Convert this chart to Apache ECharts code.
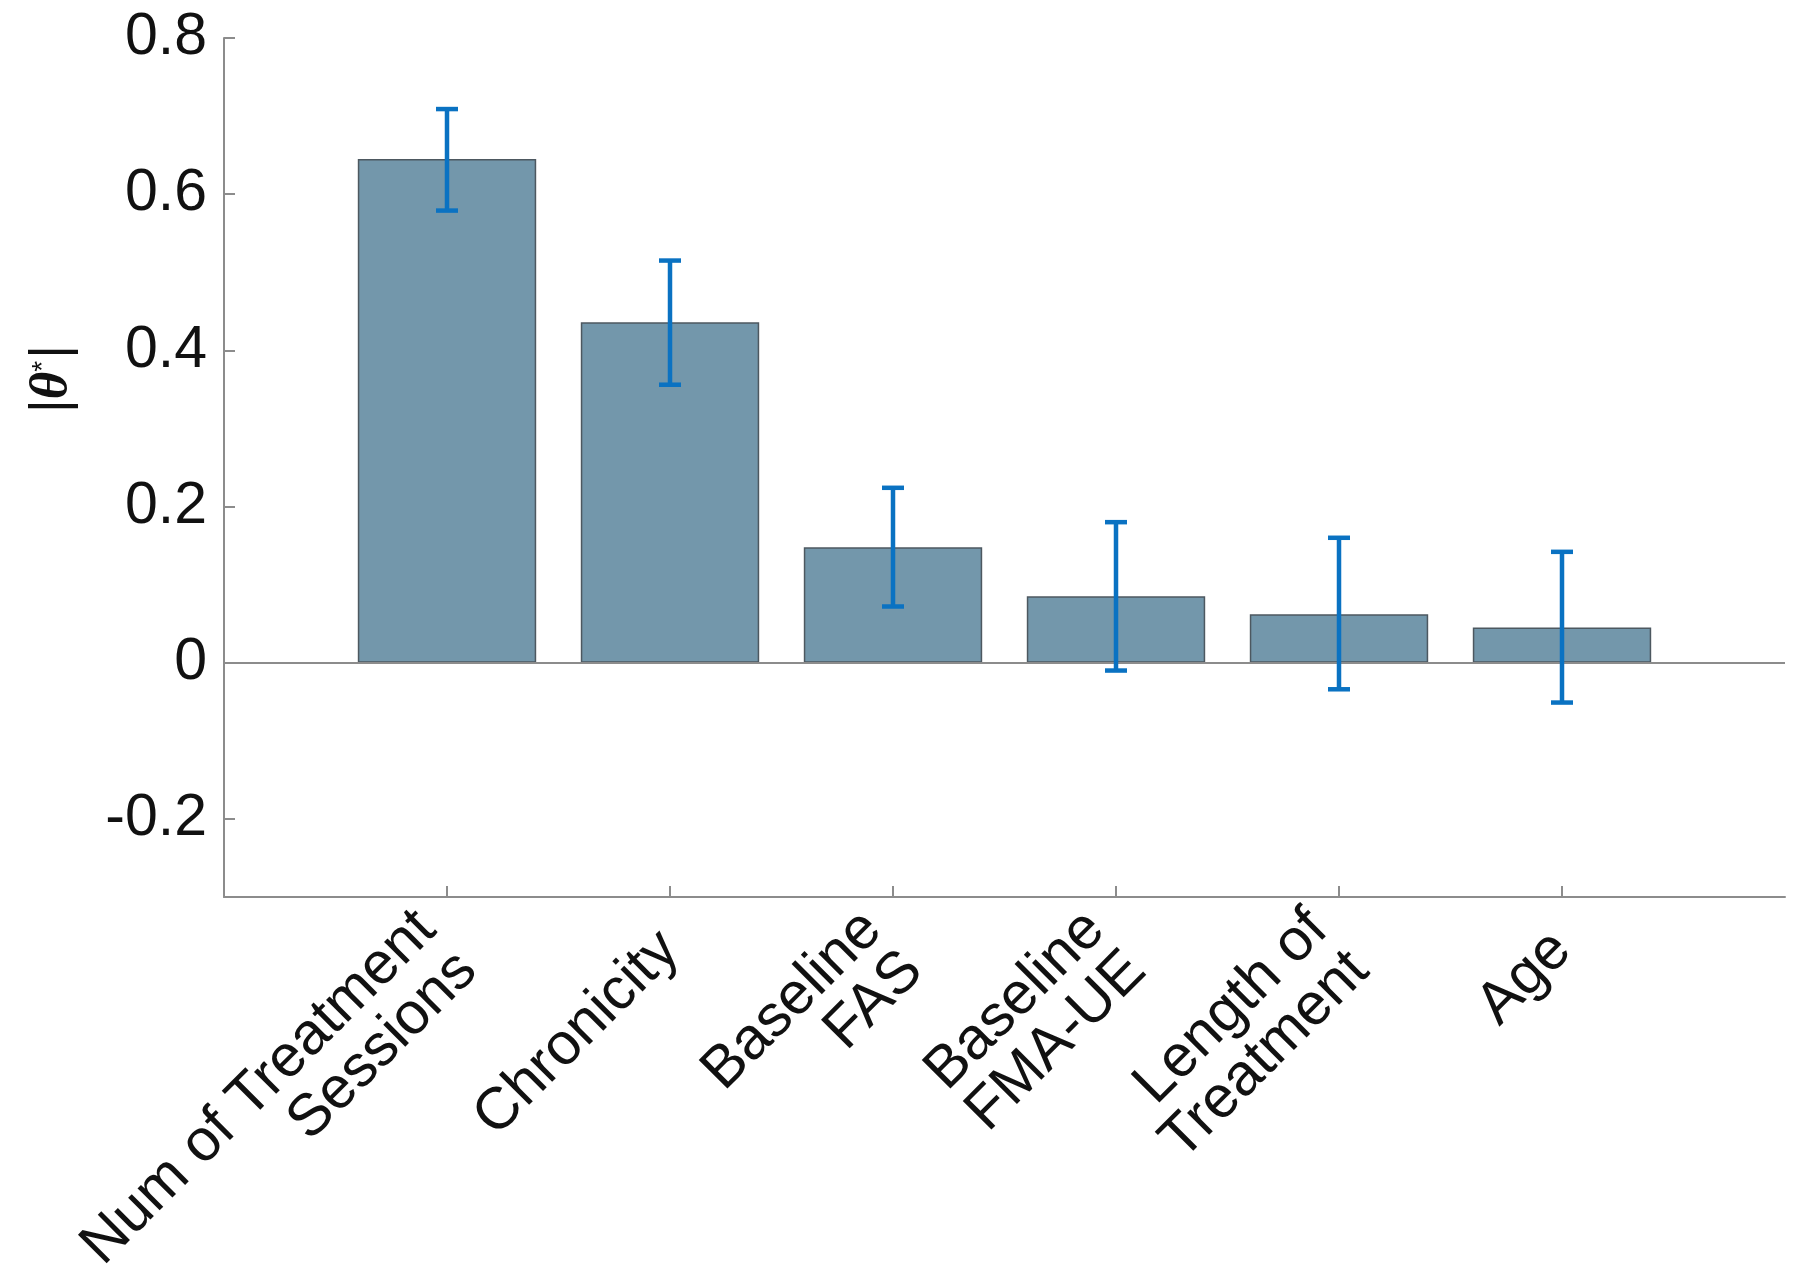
<!DOCTYPE html>
<html>
<head>
<meta charset="utf-8">
<script src="https://cdn.jsdelivr.net/npm/echarts@6/dist/echarts.min.js"></script>
<style>
html,body{margin:0;padding:0;background:#fff;}
#chart{width:1800px;height:1286px;}
</style>
</head>
<body>
<div id="chart"></div>
<script>
// ---- data ----
const categories = ['Num of Treatment\nSessions', 'Chronicity', 'Baseline\nFAS', 'Baseline\nFMA-UE', 'Length of\nTreatment', 'Age'];
const values = [0.645, 0.436, 0.148, 0.085, 0.062, 0.045];
const errLow = [0.579, 0.356, 0.072, -0.010, -0.034, -0.051];
const errHigh = [0.709, 0.515, 0.224, 0.180, 0.160, 0.142];
const yTicks = [-0.2, 0, 0.2, 0.4, 0.6, 0.8];

// padded category list so bars sit at 1..6 on a 0..7 span
const padded = [''].concat(categories, ['']);
const barData = ['-'].concat(values, ['-']);
const errData = categories.map((c, i) => [i + 1, errLow[i], errHigh[i]]);

const chart = echarts.init(document.getElementById('chart'), null, {renderer: 'canvas'});
const axisGray = '#8c8c8c';
const font = 'Liberation Sans, Arial, sans-serif';

const option = {
  backgroundColor: '#ffffff',
  animation: false,
  grid: {left: 224, right: 15, top: 38, bottom: 389, containLabel: false, outerBoundsMode: 'none'},
  xAxis: {
    type: 'category',
    data: padded,
    boundaryGap: false,
    axisLine: {show: true, onZero: false, lineStyle: {color: axisGray, width: 2}},
    axisTick: {show: true, inside: true, length: 11, lineStyle: {color: axisGray, width: 2},
      interval: function (idx) { return idx > 0 && idx < padded.length - 1; }},
    axisLabel: {
      interval: 0, rotate: 45, margin: 44,
      color: '#111', fontSize: 59, fontFamily: font, lineHeight: 58, align: 'right'
    },
    splitLine: {show: false}
  },
  yAxis: {
    type: 'value',
    min: -0.3, max: 0.8,
    axisLine: {show: true, lineStyle: {color: axisGray, width: 2}},
    axisTick: {show: true, inside: true, length: 11, customValues: yTicks, lineStyle: {color: axisGray, width: 2}},
    axisLabel: {
      customValues: yTicks, margin: 17, color: '#111', fontSize: 59, fontFamily: font,
      formatter: function (v) { return Math.abs(v) < 1e-9 ? '0' : String(Math.round(v * 10) / 10); }
    },
    splitLine: {show: false}
  },
  graphic: [{
    type: 'text',
    x: 52, y: 379,
    rotation: Math.PI / 2,
    style: {
      text: '{a||}{b|θ}{c|*}{a||}',
      align: 'center', verticalAlign: 'middle',
      rich: {
        a: {fontSize: 53, fontFamily: font, fill: '#111', lineHeight: 58},
        b: {fontSize: 53, fontFamily: 'Liberation Serif, serif', fontWeight: 'bold', fontStyle: 'italic', fill: '#111', lineHeight: 58},
        c: {fontSize: 28, fontFamily: font, fill: '#111', lineHeight: 58, verticalAlign: 'top', padding: [6, 2, 0, 0]}
      }
    }
  }],
  series: [
    {
      type: 'bar',
      data: barData,
      barWidth: '80%',
      itemStyle: {color: '#7397ab', borderColor: '#4d5860', borderWidth: 1.5},
      z: 2,
      markLine: {
        silent: true, symbol: 'none', animation: false,
        label: {show: false},
        lineStyle: {color: axisGray, width: 2, type: 'solid'},
        data: [{yAxis: 0}]
      }
    },
    {
      type: 'custom',
      data: errData,
      z: 5,
      renderItem: function (params, api) {
        const x = api.value(0);
        const lo = api.coord([x, api.value(1)]);
        const hi = api.coord([x, api.value(2)]);
        const cap = 11;
        const style = {stroke: '#0a72c2', lineWidth: 4.5, fill: null};
        return {
          type: 'group',
          children: [
            {type: 'line', shape: {x1: lo[0], y1: lo[1], x2: hi[0], y2: hi[1]}, style: style},
            {type: 'line', shape: {x1: hi[0] - cap, y1: hi[1], x2: hi[0] + cap, y2: hi[1]}, style: style},
            {type: 'line', shape: {x1: lo[0] - cap, y1: lo[1], x2: lo[0] + cap, y2: lo[1]}, style: style}
          ]
        };
      }
    }
  ]
};
chart.setOption(option);
</script>
</body>
</html>
